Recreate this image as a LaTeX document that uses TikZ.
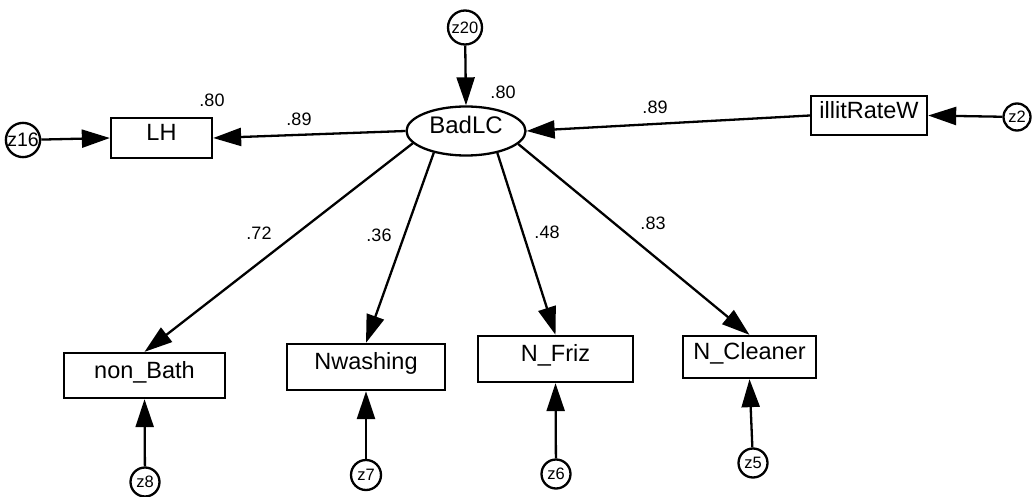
\documentclass[tikz,border=0pt]{standalone}
\usepackage{fontspec}
\setmainfont{Liberation Sans}
\usetikzlibrary{arrows.meta,shapes.geometric}
\begin{document}
\begin{tikzpicture}[x=1pt,y=-1pt,
  line width=2.3pt,
  obs/.style={draw, rectangle, inner sep=0pt, text height=0.75em, text depth=0.2em,
    font=\fontsize{23.5}{25}\selectfont},
  lat/.style={draw, ellipse, inner sep=0pt, minimum width=119pt, minimum height=49pt,
    text height=0.75em, text depth=0.2em, font=\fontsize{24}{26}\selectfont},
  err/.style={draw, circle, inner sep=0pt, minimum size=29pt, font=\fontsize{16.5}{17}\selectfont},
  coef/.style={inner sep=0pt, font=\fontsize{18}{20}\selectfont},
  arr/.style={-{Triangle[length=28pt,width=18pt]}}
]
\useasboundingbox (0,0) rectangle (1035,497);

% latent
\node[lat] (BadLC) at (466,131) {BadLC};
% observed
\node[obs, minimum width=101pt, minimum height=40pt] (LH) at (161.5,138) {LH};
\node[obs, minimum width=116pt, minimum height=39pt] (illit) at (869,115.5) {illitRateW};
\node[obs, minimum width=161pt, minimum height=45pt] (nonBath) at (144.5,375.5) {non\_Bath};
\node[obs, minimum width=158pt, minimum height=46pt] (Nwash) at (366,367) {Nwashing};
\node[obs, minimum width=155pt, minimum height=46pt] (NFriz) at (555.5,359) {N\_Friz};
\node[obs, minimum width=133pt, minimum height=42pt] (NClean) at (749.5,357) {N\_Cleaner};
% errors
\node[err, minimum size=34pt] (z20) at (465,27.5) {z20};
\node[err, minimum size=30pt, font=\fontsize{19.5}{20}\selectfont] (z16) at (23,140) {z16};
\node[err, minimum size=27pt] (z2) at (1017,117) {z2};
\node[err] (z8) at (145,482) {z8};
\node[err, minimum size=30pt] (z7) at (366,475) {z7};
\node[err] (z6) at (556,474) {z6};
\node[err] (z5) at (753,463) {z5};

% paths
\draw[arr] (z20) -- (BadLC.north);
\draw[arr] (BadLC.west) -- (LH.east);
\draw[arr] (z16) -- (LH.west);
\draw[arr] (illit.west) -- (BadLC.east);
\draw[arr] (z2) -- (illit.east);
\draw[arr] (BadLC.193) -- (nonBath.north);
\draw[arr] (BadLC.214) -- (Nwash.north);
\draw[arr] (BadLC.325) -- (NFriz.north);
\draw[arr] (BadLC.346) -- (NClean.north);
\draw[arr] (z8) -- (nonBath.south);
\draw[arr] (z7) -- (Nwash.south);
\draw[arr] (z6) -- (NFriz.south);
\draw[arr] (z5) -- (NClean.south);

% coefficients
\node[coef] (rLH) at (212,100) {.80};
\node[coef] (cLH) at (299,119) {.89};
\node[coef] (rBad) at (503,92) {.80};
\node[coef] (cIll) at (655,107) {.89};
\node[coef] (c72) at (259,233) {.72};
\node[coef] (c36) at (379,235) {.36};
\node[coef] (c48) at (547,232) {.48};
\node[coef] (c83) at (653,223) {.83};
\end{tikzpicture}
\end{document}
